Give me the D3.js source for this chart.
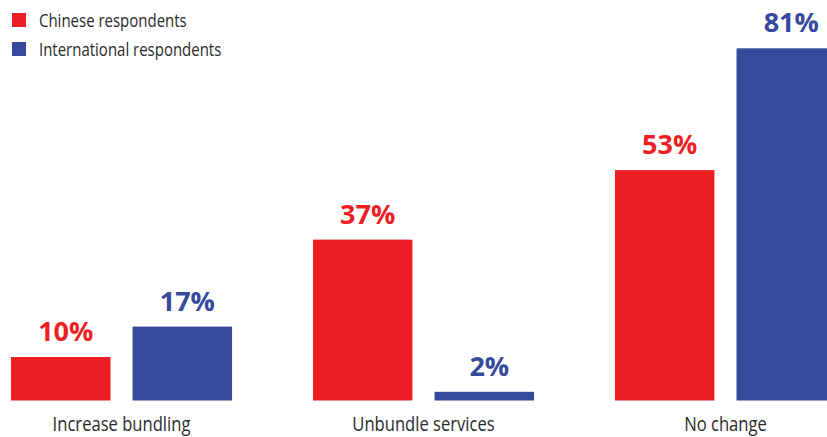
<!DOCTYPE html>
<html>
<head>
<meta charset="utf-8">
<script src="https://cdn.jsdelivr.net/npm/d3@7"></script>
<style>
  html, body { margin: 0; padding: 0; background: #fff; }
  svg { display: block; }
</style>
</head>
<body>
<svg id="chart" width="827" height="437"></svg>
<script>
// Survey answers by respondent group (percent)
const categories = ["Increase bundling", "Unbundle services", "No change"];
const seriesNames = ["Chinese respondents", "International respondents"];
const chinese = [10, 37, 53];
const international = [17, 2, 81];
const colors = ["#ED1F24", "#35499D"];

const svg = d3.select("#chart");
const baseY = 400.5;
// Condensed look for the regular-weight labels
const narrow = 0.81;

const x0 = d3.scaleBand().domain(categories).range([11, 836]).paddingInner(0.268).paddingOuter(0);
const x1 = d3.scaleBand().domain(seriesNames).range([0, x0.bandwidth()]).paddingInner(0.1818).paddingOuter(0);
const y = d3.scaleLinear().domain([0, 92]).range([baseY, baseY - 400]);
const color = d3.scaleOrdinal().domain(seriesNames).range(colors);

const rows = categories.map((c, i) => ({
  category: c,
  values: [
    { series: seriesNames[0], value: chinese[i] },
    { series: seriesNames[1], value: international[i] }
  ]
}));

const groups = svg.selectAll("g.group")
  .data(rows)
  .join("g")
  .attr("class", "group")
  .attr("transform", d => `translate(${x0(d.category)},0)`);

groups.selectAll("rect")
  .data(d => d.values)
  .join("rect")
  .attr("x", d => x1(d.series))
  .attr("y", d => y(d.value))
  .attr("width", x1.bandwidth())
  .attr("height", d => baseY - y(d.value))
  .attr("fill", d => color(d.series));

groups.selectAll("text.value")
  .data(d => d.values)
  .join("text")
  .attr("class", "value")
  .attr("x", d => x1(d.series) + x1.bandwidth() / 2 + 5)
  .attr("y", d => y(d.value) - 16)
  .attr("text-anchor", "middle")
  .attr("font-family", "'Open Sans', sans-serif")
  .attr("font-weight", 700)
  .attr("font-size", 27)
  .attr("fill", d => color(d.series))
  .text(d => d.value + "%");

// Category axis labels (no axis line)
const xAxis = d3.axisBottom(x0).tickSize(0).tickPadding(0);
const axisG = svg.append("g")
  .attr("transform", `translate(0,${baseY})`)
  .call(xAxis);
axisG.select(".domain").remove();
axisG.selectAll("text")
  .attr("dy", null)
  .attr("y", null)
  .attr("transform", `translate(0,30) scale(${narrow},1)`)
  .attr("font-family", "'Open Sans', sans-serif")
  .attr("font-size", 20.5)
  .attr("fill", "#2b2b2b");

// Legend
const legend = svg.append("g").selectAll("g")
  .data(seriesNames)
  .join("g")
  .attr("transform", (d, i) => `translate(12,${13 + i * 29})`);
legend.append("rect")
  .attr("width", 14)
  .attr("height", 14)
  .attr("fill", d => color(d));
legend.append("text")
  .attr("transform", `translate(27,13.5) scale(${narrow},1)`)
  .attr("font-family", "'Open Sans', sans-serif")
  .attr("font-size", 18.5)
  .attr("fill", "#2b2b2b")
  .text(d => d);
</script>
</body>
</html>
